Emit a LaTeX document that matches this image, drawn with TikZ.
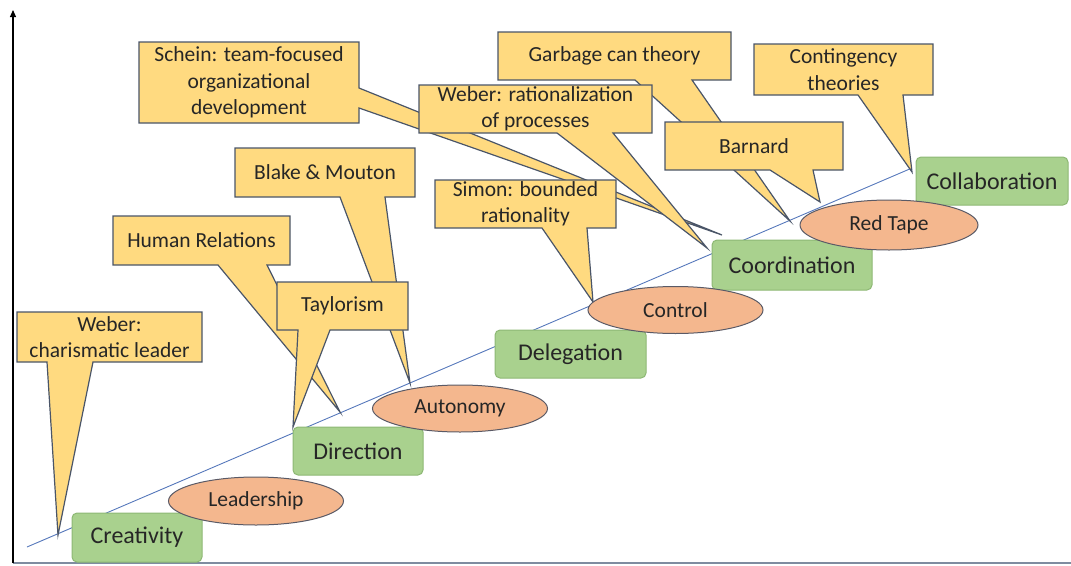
\documentclass[tikz,border=0pt]{standalone}
\usepackage{fontspec}
\setmainfont{Carlito}
\usetikzlibrary{arrows.meta,shapes.geometric}
\definecolor{callfill}{HTML}{FFDA80}
\definecolor{calldraw}{HTML}{4A5568}
\definecolor{grfill}{HTML}{A9D18E}
\definecolor{grdraw}{HTML}{8DB874}
\definecolor{elfill}{HTML}{F4B78E}
\definecolor{eldraw}{HTML}{5A5A66}
\definecolor{linecol}{HTML}{5577BB}
\definecolor{txt}{HTML}{262626}
\definecolor{axiscol}{HTML}{7F8CA0}
\tikzset{
  callshape/.style={fill=callfill,draw=calldraw,line width=1.2pt,line join=miter},
  calltext/.style={text=txt,align=center,font=\fontsize{21.5}{26.5}\selectfont,inner sep=0pt},
  stagebox/.style={rectangle,rounded corners=5pt,fill=grfill,draw=grdraw,line width=1pt,text=txt,font=\fontsize{24}{28}\selectfont,inner sep=0pt},
  crisis/.style={ellipse,fill=elfill,draw=eldraw,line width=1pt,text=txt,font=\fontsize{21.5}{26}\selectfont,inner sep=0pt},
  growth/.style={draw=linecol,line width=0.9pt},
}
\newcommand\callout[9]{%
  \filldraw[callshape] (#2,#3) -- (#4,#3) -- (#4,#5) -- (#7,#5) -- (#8) -- (#6,#5) -- (#2,#5) -- cycle;
  \node[calltext] (#1) at ({(#2+#4)/2},{(#3+#5)/2}) {#9};}
\begin{document}
\begin{tikzpicture}[x=1pt,y=-1pt]
\useasboundingbox (0,0) rectangle (1071,565);
% axes
\coordinate (origin) at (13,563);
\coordinate (ytop) at (13,10);
\coordinate (xend) at (1071,563);
\draw[axiscol,line width=1.6pt] (origin) -- (xend);
\draw[black,line width=1.1pt,-{Triangle[length=7pt,width=6pt]}] (origin) -- (ytop);
% growth line
\coordinate (ls) at (27,547);
\coordinate (le) at (912,168);
\draw[growth] (ls) -- (le);
% tips
\coordinate (tWC) at (58,535);
\coordinate (tHR) at (340,412);
\coordinate (tTa) at (293,427);
\coordinate (tBM) at (410,383);
\coordinate (tWR) at (707,248);
\coordinate (tGC) at (790,221);
\coordinate (tBa) at (820,202);
\coordinate (tCo) at (912,172);
\coordinate (tSi) at (593,302);
\coordinate (tSc) at (722,235);
% Schein callout (tail on right side)
\filldraw[callshape] (139,42) -- (359,42) -- (359,88) -- (tSc) -- (359,108) -- (359,123) -- (139,123) -- cycle;
\node[calltext] (schein) at (249,82.5) {Schein: team-focused\\organizational\\development};
\callout{garbage}{498}{32}{731}{80}{635}{692}{tGC}{Garbage can theory}
\callout{humrel}{113}{216}{290}{265}{218}{267}{tHR}{Human Relations}
\callout{blake}{235}{148}{415}{197}{340}{385}{tBM}{Blake \& Mouton}
\callout{webercl}{17}{312}{202}{362}{47}{93}{tWC}{Weber:\\charismatic leader}
\callout{weberrp}{419}{85}{652}{133}{557}{613}{tWR}{Weber: rationalization\\of processes}
\callout{simon}{435}{180}{616}{228}{542}{587}{tSi}{Simon: bounded\\rationality}
\callout{barnard}{665}{122}{843}{170}{770}{813}{tBa}{Barnard}
\callout{conting}{754}{44}{933}{95}{858}{903}{tCo}{Contingency\\theories}
\callout{taylor}{277}{282}{408}{330}{298}{330}{tTa}{Taylorism}
% stages
\node[stagebox,minimum width=130pt,minimum height=49pt] (creativity) at (137,537.5) {Creativity};
\node[stagebox,minimum width=130pt,minimum height=48pt] (direction) at (358,451) {Direction};
\node[stagebox,minimum width=151pt,minimum height=48pt] (delegation) at (570.5,354) {Delegation};
\node[stagebox,minimum width=160pt,minimum height=50pt] (coordination) at (792,265) {Coordination};
\node[stagebox,minimum width=152pt,minimum height=48pt] (collaboration) at (992,181) {Collaboration};
% crises
\node[crisis,minimum width=175pt,minimum height=48pt] (leadership) at (256,501) {Leadership};
\node[crisis,minimum width=175pt,minimum height=47pt] (autonomy) at (460,408.5) {Autonomy};
\node[crisis,minimum width=175pt,minimum height=47pt] (control) at (675.5,310) {Control};
\node[crisis,minimum width=178pt,minimum height=50pt] (redtape) at (889,225) {Red Tape};
\end{tikzpicture}
\end{document}
